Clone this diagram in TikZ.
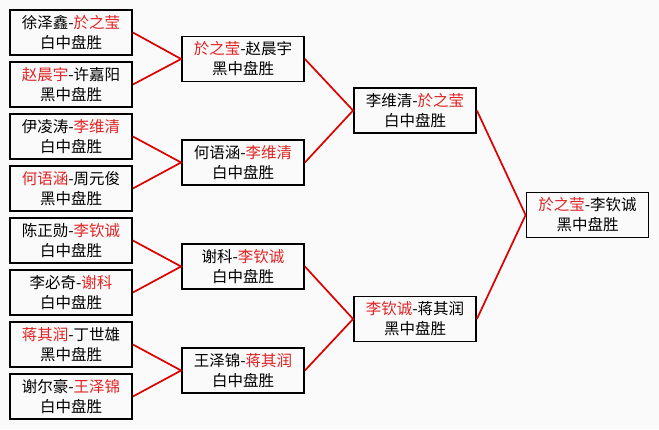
\documentclass[tikz,border=0pt]{standalone}
\usepackage{fontspec}
\newfontfamily\cjk{Noto Sans CJK SC}
\definecolor{bgc}{RGB}{250,250,250}
\definecolor{winc}{RGB}{225,35,35}
\definecolor{linkc}{RGB}{220,0,0}
\newcommand\wn[1]{\textcolor{winc}{#1}}
\begin{document}
\begin{tikzpicture}[x=1pt,y=-1pt,
  match/.style={draw=black, line width=1.8pt, minimum width=122pt, minimum height=45pt,
    inner sep=0pt, align=center, font=\cjk\fontsize{15.5}{20}\selectfont},
  link/.style={draw=linkc, line width=1.7pt}]
\fill[bgc] (0,0) rectangle (659,429);
\useasboundingbox (0,0) rectangle (659,429);
% round 1
\node[match] (r1a) at (71,32.5)  {徐泽鑫-\wn{於之莹}\\白中盘胜};
\node[match] (r1b) at (71,84.5)  {\wn{赵晨宇}-许嘉阳\\黑中盘胜};
\node[match] (r1c) at (71,136.5) {伊凌涛-\wn{李维清}\\白中盘胜};
\node[match] (r1d) at (71,188.5) {\wn{何语涵}-周元俊\\黑中盘胜};
\node[match] (r1e) at (71,240.5) {陈正勋-\wn{李钦诚}\\白中盘胜};
\node[match] (r1f) at (71,292.5) {李必奇-\wn{谢科}\\白中盘胜};
\node[match] (r1g) at (71,344.5) {\wn{蒋其润}-丁世雄\\黑中盘胜};
\node[match] (r1h) at (71,396.5) {谢尔豪-\wn{王泽锦}\\白中盘胜};
% round 2
\node[match] (r2a) at (243,59)    {\wn{於之莹}-赵晨宇\\黑中盘胜};
\node[match] (r2b) at (243,162.5) {何语涵-\wn{李维清}\\白中盘胜};
\node[match] (r2c) at (243,266.5) {谢科-\wn{李钦诚}\\白中盘胜};
\node[match] (r2d) at (243,370.5) {王泽锦-\wn{蒋其润}\\白中盘胜};
% round 3
\node[match] (r3a) at (415,110.5) {李维清-\wn{於之莹}\\白中盘胜};
\node[match] (r3b) at (415,319)   {\wn{李钦诚}-蒋其润\\黑中盘胜};
% final
\node[match] (fin) at (587.5,215) {\wn{於之莹}-李钦诚\\黑中盘胜};
% connectors
\draw[link] (r1a.east) -- (r2a.west) -- (r1b.east);
\draw[link] (r1c.east) -- (r2b.west) -- (r1d.east);
\draw[link] (r1e.east) -- (r2c.west) -- (r1f.east);
\draw[link] (r1g.east) -- (r2d.west) -- (r1h.east);
\draw[link] (r2a.east) -- (r3a.west) -- (r2b.east);
\draw[link] (r2c.east) -- (r3b.west) -- (r2d.east);
\draw[link] (r3a.east) -- (fin.west) -- (r3b.east);
\end{tikzpicture}
\end{document}
